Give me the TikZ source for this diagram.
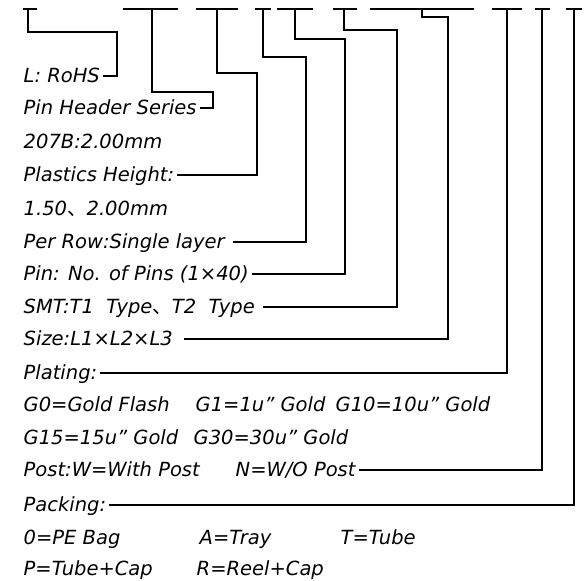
\documentclass[tikz,border=0pt]{standalone}
\usepackage{fontspec}
\setmainfont{DejaVu Sans}
\newfontfamily\cjkfont{Noto Sans CJK SC}
\usetikzlibrary{calc, positioning}

\newcommand{\dunhao}{{\cjkfont 、}}

\begin{document}
\begin{tikzpicture}[x=1pt, y=-1pt, line width=1.4pt,
    lbl/.style={anchor=west, inner ysep=0pt, inner xsep=2.5pt,
        text height=13.5pt, text depth=0pt,
        font=\itshape\fontsize{19.5}{19.5}\selectfont}]
\useasboundingbox (0,0) rectangle (585,580);
\def\ytop{9}
\def\xtext{20.5}

% drop points under the code bars
\coordinate (BarA) at (28,\ytop);
\coordinate (BarB) at (152,\ytop);
\coordinate (BarC) at (217,\ytop);
\coordinate (BarD) at (263,\ytop);
\coordinate (BarE) at (295,\ytop);
\coordinate (BarF) at (344,\ytop);
\coordinate (BarG) at (422,\ytop);
\coordinate (BarH) at (507,\ytop);
\coordinate (BarI) at (542,\ytop);
\coordinate (BarJ) at (574,\ytop);

\draw (23,\ytop) -- (37,\ytop);
\draw (123,\ytop) -- (178,\ytop);
\draw (196,\ytop) -- (238,\ytop);
\draw (255,\ytop) -- (271,\ytop);
\draw (277,\ytop) -- (313,\ytop);
\draw (333,\ytop) -- (357,\ytop);
\draw (370,\ytop) -- (474,\ytop);
\draw (492,\ytop) -- (522,\ytop);
\draw (535,\ytop) -- (550,\ytop);
\draw (566,\ytop) -- (582,\ytop);

% labels
\node[lbl] (RohsLabel) at (\xtext,76) {L: RoHS};
\node[lbl] (SeriesLabel) at (\xtext,108) {Pin Header Series};
\node[lbl] (PitchLabel) at (\xtext,141.5) {207B:2.00mm};
\node[lbl] (HeightLabel) at (\xtext,175) {Plastics Height:};
\node[lbl] (HeightVals) at (\xtext,208.5) {1.50\dunhao 2.00mm};
\node[lbl] (RowLabel) at (\xtext,242) {Per Row:Single layer\hspace*{5pt}};
\node[lbl] (PinLabel) at (\xtext,274) {Pin: No. of Pins (1×40)};
\node[lbl] (SmtLabel) at (\xtext,307) {SMT:T1 \ Type\dunhao T2 \ Type\hspace*{5pt}};
\node[lbl] (SizeLabel) at (\xtext,339) {Size:L1×L2×L3\hspace*{8pt}};
\node[lbl] (PlatingLabel) at (\xtext,373) {Plating:};
\node[lbl] (GoldA) at (\xtext,405) {G0=Gold Flash};
\node[lbl] (GoldB) at (192.5,405) {G1=1u" Gold};
\node[lbl] (GoldC) at (332.5,405) {G10=10u" Gold};
\node[lbl] (GoldD) at (\xtext,437.5) {G15=15u" Gold};
\node[lbl] (GoldE) at (190.5,437.5) {G30=30u" Gold};
\node[lbl] (PostLabel) at (\xtext,470) {Post:W=With Post};
\node[lbl] (NoPostLabel) at (232.5,470) {N=W/O Post};
\node[lbl] (PackLabel) at (\xtext,505) {Packing:};
\node[lbl] (PackA) at (\xtext,537.5) {0=PE Bag};
\node[lbl] (PackB) at (196.5,537.5) {A=Tray};
\node[lbl] (PackC) at (337.5,537.5) {T=Tube};
\node[lbl] (PackD) at (\xtext,569) {P=Tube+Cap};
\node[lbl] (PackE) at (193.5,569) {R=Reel+Cap};

% leaders up to the code bars
\draw (RohsLabel.east) -| (117,32) -| (BarA);
\draw (SeriesLabel.east) -| (213,92) -| (BarB);
\draw (HeightLabel.east) -| (257,73) -| (BarC);
\draw (RowLabel.east) -| (306,57) -| (BarD);
\draw (PinLabel.east) -| (345,39) -| (BarE);
\draw (SmtLabel.east) -| (397,30) -| (BarF);
\draw (SizeLabel.east) -| (448,17) -| (BarG);
\draw (PlatingLabel.east) -| (BarH);
\draw (NoPostLabel.east) -| (BarI);
\draw (PackLabel.east) -| (BarJ);
\end{tikzpicture}
\end{document}
